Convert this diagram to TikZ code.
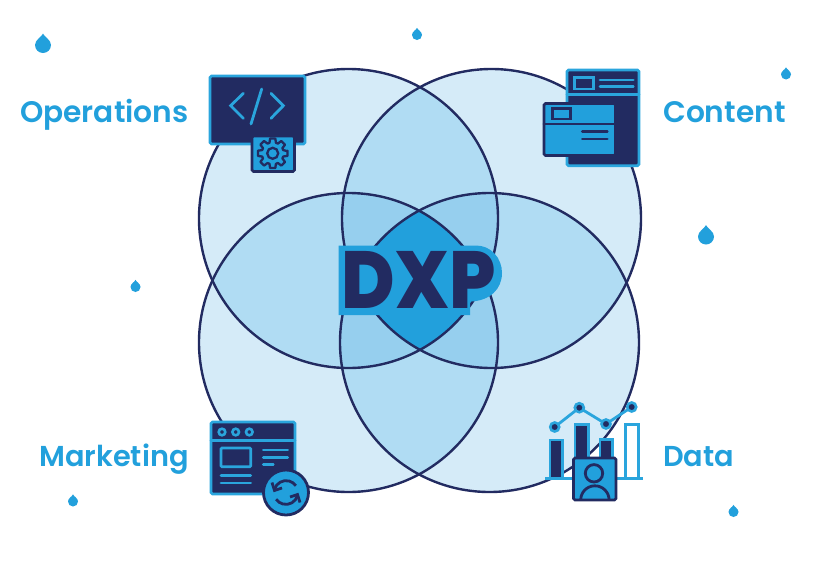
\documentclass[tikz,border=0pt]{standalone}
\usepackage{fontspec}
\newfontfamily\labelfont{Poppins}[UprightFont=* SemiBold]
\newfontfamily\dxpfont{Poppins}[UprightFont=* ExtraBold]
\usetikzlibrary{arrows.meta}
\definecolor{navy}{HTML}{222B61}
\definecolor{sky}{HTML}{22A0DC}
\definecolor{skyline}{HTML}{2AA5DD}
\definecolor{one}{HTML}{D5EBF8}
\definecolor{two}{HTML}{B0DCF3}
\definecolor{three}{HTML}{96CFEE}
\newcommand\pTL{(348.5,218.5) circle[radius=149.5]}
\newcommand\pTR{(491.5,218.5) circle[radius=149.5]}
\newcommand\pBL{(348.5,342.5) circle[radius=149.5]}
\newcommand\pBR{(489.5,342.5) circle[radius=149.5]}
\newcommand\lensfill[3]{\begin{scope}\clip #1;\fill[#3] #2;\end{scope}}
\newcommand\trifill[4]{\begin{scope}\clip #1;\clip #2;\fill[#4] #3;\end{scope}}
\tikzset{
  ring/.style={draw=navy,line width=2.4pt},
  panel/.style={fill=navy,draw=skyline,line width=2.8pt,rounded corners=1.5pt},
  bluepanel/.style={fill=sky,draw=navy,line width=2.8pt,rounded corners=1.5pt},
  rule/.style={draw=skyline,line width=2.8pt,line cap=round},
  darkrule/.style={draw=navy,line width=2.8pt,line cap=round},
  caption/.style={text=sky,inner sep=0pt,anchor=base west,font=\labelfont\fontsize{#1}{29}\selectfont},
  drop/.pic={\fill[sky] (0,-1.42) .. controls (0.18,-1.0) and (1,-0.65) .. (1,0)
     arc[start angle=0,end angle=180,radius=1]
     .. controls (-1,-0.65) and (-0.18,-1.0) .. cycle;},
  plotdot/.style={fill=navy,draw=skyline,line width=2.6pt},
}
\begin{document}
\begin{tikzpicture}[x=1pt,y=-1pt]
\useasboundingbox (0,0) rectangle (840,560);
% Venn regions
\fill[one] \pTL; \fill[one] \pTR; \fill[one] \pBL; \fill[one] \pBR;
\lensfill{\pTL}{\pTR}{two}
\lensfill{\pTL}{\pBL}{two}
\lensfill{\pTR}{\pBR}{two}
\lensfill{\pBL}{\pBR}{two}
\lensfill{\pTL}{\pBR}{two}
\lensfill{\pTR}{\pBL}{two}
\trifill{\pTL}{\pTR}{\pBL}{three}
\trifill{\pTL}{\pTR}{\pBR}{three}
\trifill{\pTL}{\pBL}{\pBR}{three}
\trifill{\pTR}{\pBL}{\pBR}{three}
\begin{scope}\clip \pTL;\clip \pTR;\clip \pBL;\fill[sky] \pBR;\end{scope}
\draw[ring] \pTL; \draw[ring] \pTR; \draw[ring] \pBL; \draw[ring] \pBR;
% DXP
\fill[sky] (338.5,245.5) -- (476,245.5) .. controls (491,245.5) and (502,258) .. (502,273)
  .. controls (502,289) and (490,301) .. (470,301.5) -- (470,315) -- (338.5,315) -- cycle;
\node[inner sep=0pt,anchor=base,text=navy,xscale=0.9,font=\dxpfont\fontsize{81}{81}\selectfont] (dxp) at (418.5,308) {DXP};
% Operations icon
\draw[panel] (210,76) rectangle (305,144);
\draw[rule] (243.3,93.3) -- (230.7,105.7) -- (243.3,118.3);
\draw[rule] (261.7,89) -- (251,124);
\draw[rule] (271,93.3) -- (283.3,105.7) -- (271,118.3);
\draw[bluepanel] (252,136) rectangle (294.5,171.5);
\begin{scope}[shift={(272.7,153.3)}]
 \draw[navy,line width=2.3pt,line join=round] (-8:15)
  \foreach \a in {0,45,...,315} { -- (\a-10:15) -- (\a+10:15) -- (\a+17:11) -- (\a+28:11) } -- cycle;
 \draw[navy,line width=2.3pt] (0,0) circle[radius=5.5];
\end{scope}
% Content icon
\draw[panel] (567,70) rectangle (639,165.7);
\draw[rule] (567,94.3) -- (639,94.3);
\draw[skyline,line width=2.6pt] (574.3,77.7) rectangle (593.3,89);
\draw[rule] (600,80) -- (633.3,80);
\draw[rule] (600,86.7) -- (633.3,86.7);
\draw[bluepanel] (544,103.5) rectangle (615.5,155.5);
\draw[darkrule] (544,124) -- (615.5,124);
\draw[navy,line width=2.6pt] (552.3,108.3) rectangle (570.7,119);
\draw[darkrule] (582.3,131.7) -- (607.3,131.7);
\draw[darkrule] (582.3,139) -- (607.3,139);
% Marketing icon
\draw[panel] (211,422) rectangle (295,494);
\draw[rule] (211,440.7) -- (295,440.7);
\draw[skyline,line width=2.6pt] (222,432) circle[radius=3.3];
\draw[skyline,line width=2.6pt] (235.7,432) circle[radius=3.3];
\draw[skyline,line width=2.6pt] (249.3,432) circle[radius=3.3];
\draw[skyline,line width=2.6pt,rounded corners=1pt] (221,448) rectangle (250.7,466.7);
\draw[rule] (263.3,450) -- (287.7,450);
\draw[rule] (263.3,457.3) -- (287.7,457.3);
\draw[rule] (263.3,464.3) -- (273.3,464.3);
\draw[rule] (221,475.7) -- (250.7,475.7);
\draw[rule] (221,483) -- (250.7,483);
\draw[fill=sky,draw=navy,line width=2.8pt] (286,492.5) circle[radius=22.5];
\draw[navy,line width=2.8pt] (274.5,489.5) arc[start angle=195,end angle=325,radius=12];
\draw[navy,line width=2.8pt] (297.5,495.5) arc[start angle=15,end angle=145,radius=12];
\draw[navy,line width=2.8pt,line join=miter] (272,482.5) -- (274.5,490.5) -- (282,488);
\draw[navy,line width=2.8pt,line join=miter] (300,502.5) -- (297.5,494.5) -- (290,497);
% Data icon
\draw[rule,line cap=butt] (545,478.3) -- (643.3,478.3);
\draw[fill=navy,draw=skyline,line width=2.8pt] (550,440) rectangle (562.3,478.3);
\draw[fill=navy,draw=skyline,line width=2.8pt] (575,424.3) rectangle (588.3,478.3);
\draw[fill=navy,draw=skyline,line width=2.8pt] (600,439.3) rectangle (612.3,478.3);
\draw[skyline,line width=2.8pt] (625.7,424.3) rectangle (638.3,478.3);
\draw[skyline,line width=2.8pt] (554.7,427) -- (579.3,407.7) -- (606,424) -- (631.7,407);
\draw[plotdot] (554.7,427) circle[radius=4.5];
\draw[plotdot] (579.3,407.7) circle[radius=4.5];
\draw[plotdot] (606,424) circle[radius=4.5];
\draw[plotdot] (631.7,407) circle[radius=4.5];
\draw[bluepanel] (573.5,458) rectangle (616,500);
\draw[navy,line width=2.8pt] (594,473.3) circle[radius=8.7];
\draw[navy,line width=2.8pt] (580.7,500) arc[start angle=180,end angle=360,radius=14.2];
% Captions
\node[caption=29.7] (ops) at (20,122) {Operations};
\node[caption=29.7] (con) at (663,122) {Content};
\node[caption=28.8] (mkt) at (39,466) {Marketing};
\node[caption=28.8] (dat) at (663,466) {Data};
% Drops
\pic[scale=8] at (43,45) {drop};
\pic[scale=8] at (706,236.5) {drop};
\pic[scale=5] at (417,35) {drop};
\pic[scale=5] at (786,74.5) {drop};
\pic[scale=5] at (135.5,287) {drop};
\pic[scale=5] at (73,501.5) {drop};
\pic[scale=5] at (733.5,512) {drop};
\end{tikzpicture}
\end{document}
